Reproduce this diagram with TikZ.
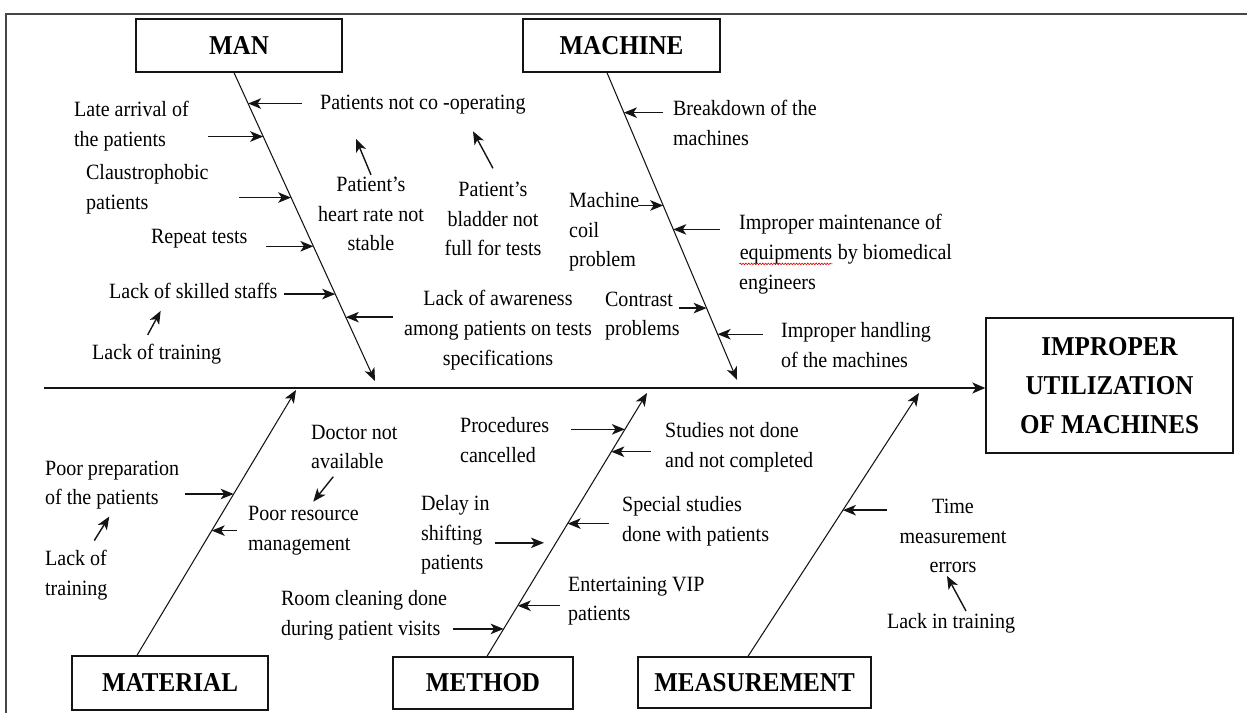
\documentclass[tikz,border=0pt]{standalone}
\usepackage{fontspec}
\setmainfont{Liberation Serif}[FakeStretch=0.92]
\usepackage{xcolor}
\usepackage{tikz}
\usetikzlibrary{arrows.meta, positioning, decorations.pathmorphing}
\definecolor{lineColor}{RGB}{20,20,20}
\definecolor{frameColor}{RGB}{70,70,70}
\definecolor{spellColor}{RGB}{230,0,0}
\newcommand{\causefont}{\fontsize{12.4}{16.9}\selectfont}
\newcommand{\titlefont}{\fontsize{15.5}{22.2}\selectfont\bfseries}
\newcommand{\spellwave}[1]{\tikz[baseline=(w.base)]{\node[inner sep=0pt, anchor=base] (w) {#1};
    \draw[spellColor, line width=0.35pt, decorate, decoration={snake, amplitude=0.45pt, segment length=1.6pt}]
    ([yshift=-2.6pt]w.base west) -- ([yshift=-2.6pt]w.base east);}}
\tikzstyle{category} = [rectangle, draw=lineColor, line width=0.8pt, font=\titlefont, text=black, inner sep=2pt]
\tikzstyle{effect} = [category, align=center]
\tikzstyle{cause} = [font=\causefont, text=black, align=left, anchor=west, inner sep=1pt]
\tikzstyle{causec} = [cause, align=center, anchor=center]
\tikzstyle{bone} = [line width=0.6pt, draw=lineColor, -{Stealth[length=2.6mm, width=2.1mm, inset=0.7mm]}]
\tikzstyle{spine} = [line width=0.8pt, draw=lineColor, -{Stealth[length=2.6mm, width=2.2mm, inset=0.7mm]}]
\tikzstyle{arrow} = [line width=0.8pt, draw=lineColor, -{Stealth[length=2.6mm, width=2.1mm, inset=0.7mm]}]
\tikzstyle{backarrow} = [line width=0.8pt, draw=lineColor, {Stealth[length=2.6mm, width=2.1mm, inset=0.7mm]}-]

\begin{document}
\begin{tikzpicture}[x=0.02cm, y=-0.02cm]
    \useasboundingbox (0,0) rectangle (1247,713);
    \draw[frameColor, line width=1.1pt] (6,713) -- (6,14) -- (1247,14);

    % category boxes
    \node (man) [category, minimum width=4.12cm, minimum height=1.06cm] at (239,45.5) {MAN};
    \node (machine) [category, minimum width=3.94cm, minimum height=1.06cm] at (621.5,45.5) {MACHINE};
    \node (material) [category, minimum width=3.92cm, minimum height=1.08cm] at (170,683) {MATERIAL};
    \node (method) [category, minimum width=3.6cm, minimum height=1.04cm] at (483,683) {METHOD};
    \node (measurement) [category, minimum width=4.66cm, minimum height=1.02cm] at (754.5,682.5) {MEASUREMENT};
    \node (result) [effect, minimum width=4.94cm, minimum height=2.7cm] at (1109.5,385.5) {IMPROPER\\UTILIZATION\\OF MACHINES};

    % causes
    \node (coop) [cause] at (318,105) {Patients not co -operating};
    \node (late) [cause] at (72,126) {Late arrival of\\the patients};
    \node (claus) [cause] at (84,189) {Claustrophobic\\patients};
    \node (repeat) [cause] at (149,239) {Repeat tests};
    \node (skilled) [cause] at (107,291) {Lack of skilled staffs};
    \node (lacktr) [cause] at (90,354) {Lack of training};
    \node (heart) [causec] at (371,214) {Patient's\\heart rate not\\stable};
    \node (bladder) [causec] at (493,219) {Patient's\\bladder not\\full for tests};
    \node (aware) [causec] at (498,330) {Lack of awareness\\among patients on tests\\specifications};

    \node (breakdown) [cause] at (671,123) {Breakdown of the\\machines};
    \node (coil) [cause] at (567,232) {Machine\\coil\\problem};
    \node (maint) [cause] at (737,254) {Improper maintenance of\\\spellwave{equipments} by biomedical\\engineers};
    \node (contrast) [cause] at (603,316) {Contrast\\problems};
    \node (handling) [cause] at (779,345) {Improper handling\\of the machines};

    \node (prep) [cause] at (43,485) {Poor preparation\\of the patients};
    \node (lacktrb) [cause] at (43,575) {Lack of\\training};
    \node (doctor) [cause] at (309,447) {Doctor not\\available};
    \node (resource) [cause] at (246,531) {Poor resource\\management};

    \node (proc) [cause] at (458,440) {Procedures\\cancelled};
    \node (studies) [cause] at (663,447) {Studies not done\\and not completed};
    \node (delay) [cause] at (419,535) {Delay in\\shifting\\patients};
    \node (special) [cause] at (620,521) {Special studies\\done with patients};
    \node (vip) [cause] at (566,601) {Entertaining VIP\\patients};
    \node (room) [cause] at (279,615) {Room cleaning done\\during patient visits};

    \node (timeerr) [causec] at (953,536) {Time\\measurement\\errors};
    \node (lackin) [causec] at (951,623) {Lack in training};

    % spine and bones
    \coordinate (spinestart) at (44,388);
    \coordinate (manend) at (375,381);
    \coordinate (machineend) at (737,380);
    \coordinate (materialend) at (296,390);
    \coordinate (methodend) at (647,393);
    \coordinate (measureend) at (919,393);

    \draw[spine] (spinestart) -- (spinestart -| result.west);
    \draw[bone] (man.south -| 234,0) -- coordinate[pos=0.100] (a1) coordinate[pos=0.207] (a2)
        coordinate[pos=0.405] (a3) coordinate[pos=0.563] (a4) coordinate[pos=0.718] (a5)
        coordinate[pos=0.793] (a6) (manend);
    \draw[bone] (machine.south -| 607,0) -- coordinate[pos=0.130] (b1) coordinate[pos=0.432] (b2)
        coordinate[pos=0.510] (b3) coordinate[pos=0.766] (b4) coordinate[pos=0.851] (b5) (machineend);
    \draw[bone] (material.north -| 137,0) -- coordinate[pos=0.608] (c1) coordinate[pos=0.470] (c2) (materialend);
    \draw[bone] (method.north -| 487,0) -- coordinate[pos=0.862] (d1) coordinate[pos=0.777] (d2)
        coordinate[pos=0.431] (d3) coordinate[pos=0.504] (d4) coordinate[pos=0.192] (d5)
        coordinate[pos=0.104] (d6) (methodend);
    \draw[bone] (measurement.north -| 748,0) -- coordinate[pos=0.555] (e1) (measureend);

    \draw[backarrow] (a1) -- +(54,0);
    \draw[backarrow] (a2) -- +(-55,0);
    \draw[backarrow] (a3) -- +(-52,0);
    \draw[backarrow] (a4) -- +(-47,0);
    \draw[backarrow] (a5) -- +(-51,0);
    \draw[backarrow] (a6) -- +(47,0);
    \draw[backarrow] (b1) -- +(39,0);
    \draw[backarrow] (b2) -- +(-25,0);
    \draw[backarrow] (b3) -- +(47,0);
    \draw[backarrow] (b4) -- +(-28,0);
    \draw[backarrow] (b5) -- +(45,0);
    \draw[backarrow] (c1) -- +(-49,0);
    \draw[backarrow] (c2) -- +(25,0);
    \draw[backarrow] (d1) -- +(-54,0);
    \draw[backarrow] (d2) -- +(40,0);
    \draw[backarrow, shorten <=0.24cm] (d3) -- +(-61,0);
    \draw[backarrow] (d4) -- +(41,0);
    \draw[backarrow] (d5) -- +(42,0);
    \draw[backarrow] (d6) -- +(-51,0);
    \draw[backarrow] (e1) -- +(44,0);

    % sub-causes
    \draw[arrow] (heart.north) -- +(-15,-36);
    \draw[arrow] ([yshift=0.23cm]bladder.north) -- +(-20,-37);
    \draw[arrow] ([xshift=-0.18cm, yshift=0.14cm]lacktr.north) -- +(13,-24);
    \draw[arrow] ([xshift=0.36cm, yshift=0.15cm]lacktrb.north) -- +(15,-24);
    \draw[arrow] ([xshift=-0.42cm, yshift=-0.11cm]doctor.south) -- +(-20,25);
    \draw[arrow] ([xshift=0.3cm]lackin.north) -- +(-19,-35);
\end{tikzpicture}
\end{document}
